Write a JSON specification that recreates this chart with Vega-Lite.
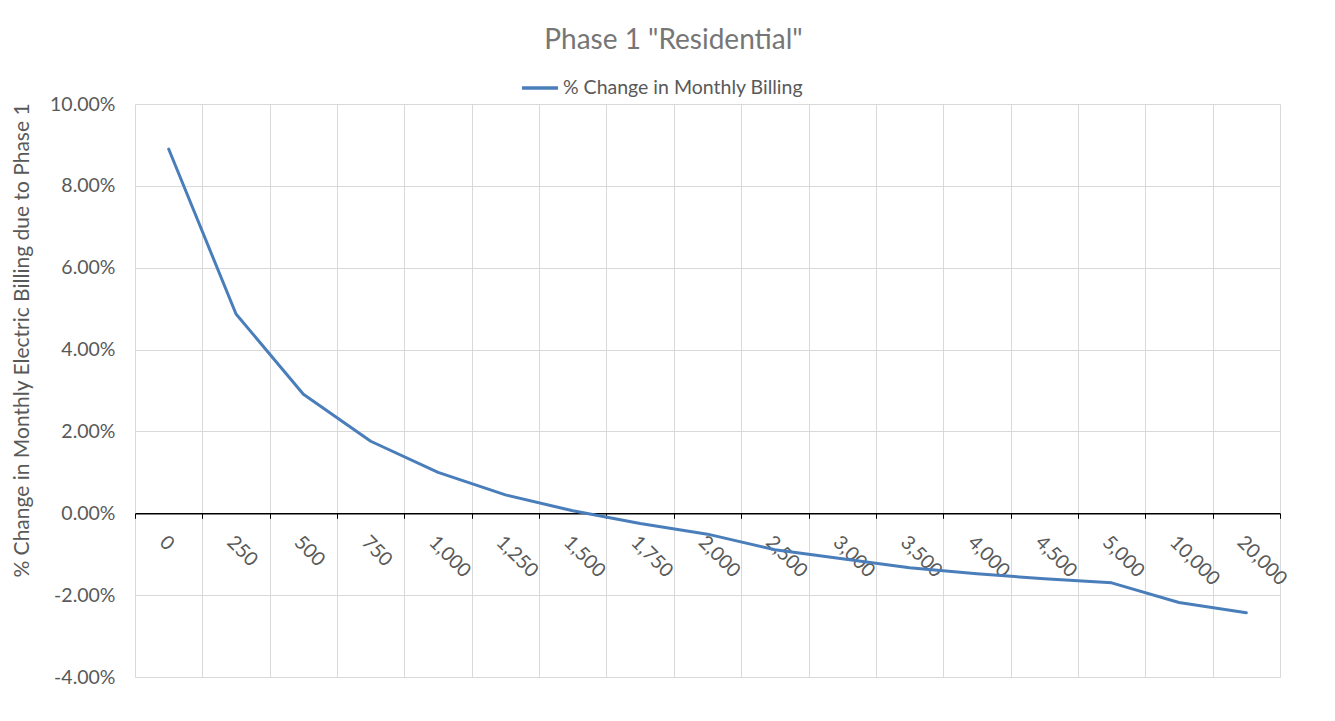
{
  "$schema": "https://vega.github.io/schema/vega-lite/v6.json",
  "width": 1145,
  "height": 573,
  "autosize": {"type": "none"},
  "padding": {"left": 135, "top": 104, "right": 55, "bottom": 44},
  "background": "white",
  "title": {
    "text": "Phase 1 \"Residential\"",
    "font": "Lato",
    "fontSize": 28,
    "fontWeight": "normal",
    "color": "#767676",
    "anchor": "middle",
    "dx": -34,
    "offset": 13
  },
  "data": {
    "values": [
      {"kwh": "0", "pct": 0.0890},
      {"kwh": "250", "pct": 0.0487},
      {"kwh": "500", "pct": 0.0291},
      {"kwh": "750", "pct": 0.0176},
      {"kwh": "1,000", "pct": 0.0100},
      {"kwh": "1,250", "pct": 0.0045},
      {"kwh": "1,500", "pct": 0.0006},
      {"kwh": "1,750", "pct": -0.0025},
      {"kwh": "2,000", "pct": -0.0051},
      {"kwh": "2,500", "pct": -0.0089},
      {"kwh": "3,000", "pct": -0.0111},
      {"kwh": "3,500", "pct": -0.0133},
      {"kwh": "4,000", "pct": -0.0148},
      {"kwh": "4,500", "pct": -0.0160},
      {"kwh": "5,000", "pct": -0.0170},
      {"kwh": "10,000", "pct": -0.0218},
      {"kwh": "20,000", "pct": -0.0243}
    ]
  },
  "mark": {"type": "line", "strokeWidth": 3, "strokeCap": "round", "strokeJoin": "round"},
  "encoding": {
    "x": {
      "field": "kwh",
      "type": "ordinal",
      "sort": null,
      "bandPosition": 0.5,
      "scale": {"type": "band", "paddingInner": 0, "paddingOuter": 0},
      "axis": {
        "title": null,
        "offset": -163.7,
        "tickBand": "extent",
        "grid": true,
        "gridColor": "#d9d9d9",
        "gridWidth": 1,
        "domainColor": "#000000",
        "domainWidth": 1.5,
        "tickColor": "#000000",
        "tickWidth": 1,
        "tickSize": 5,
        "labelAngle": 45,
        "labelAlign": "left",
        "labelBaseline": "top",
        "labelPadding": 14,
        "labelFont": "Lato",
        "labelFontSize": 19.5,
        "labelColor": "#595959",
        "labelOverlap": false,
        "labelBound": false
      }
    },
    "y": {
      "field": "pct",
      "type": "quantitative",
      "scale": {"domain": [-0.04, 0.10], "nice": false, "zero": false},
      "axis": {
        "values": [-0.04, -0.02, 0, 0.02, 0.04, 0.06, 0.08, 0.10],
        "labelExpr": "replace(format(datum.value, '.2%'), '\u2212', '-')",
        "ticks": false,
        "domain": false,
        "gridColor": "#d9d9d9",
        "gridWidth": 1,
        "labelPadding": 20,
        "labelFont": "Lato",
        "labelFontSize": 19.5,
        "labelColor": "#595959",
        "title": "% Change in Monthly Electric Billing due to Phase 1",
        "titleFont": "Lato",
        "titleFontSize": 21,
        "titleFontWeight": "normal",
        "titleColor": "#595959",
        "titleAngle": -90,
        "titleX": -113,
        "titleY": 236,
        "titleAlign": "center",
        "titleBaseline": "middle"
      }
    },
    "color": {
      "datum": "% Change in Monthly Billing",
      "type": "nominal",
      "scale": {"range": ["#4a7ebb"]},
      "legend": {
        "title": null,
        "orient": "none",
        "legendX": 385,
        "legendY": -36,
        "symbolType": "stroke",
        "symbolStrokeWidth": 3.5,
        "symbolSize": 1300,
        "labelFont": "Lato",
        "labelFontSize": 19.5,
        "labelColor": "#595959",
        "labelOffset": 3,
        "labelLimit": 500
      }
    }
  },
  "config": {"view": {"stroke": null}}
}
